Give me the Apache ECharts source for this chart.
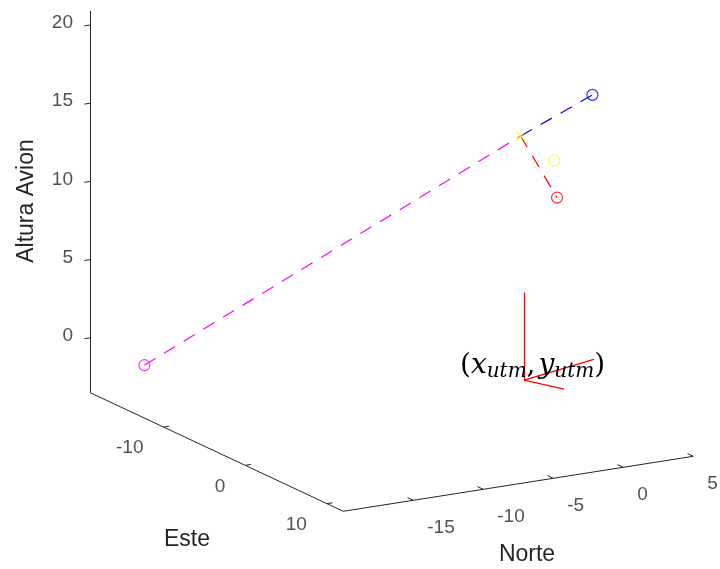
<!DOCTYPE html>
<html>
<head>
<meta charset="utf-8">
<script src="https://cdn.jsdelivr.net/npm/echarts@6/dist/echarts.min.js"></script>
<style>
  html, body { margin: 0; padding: 0; background: #fff; }
  #chart { width: 720px; height: 569px; }
</style>
</head>
<body>
<div id="chart"></div>
<script>
// limites de los ejes [min, max]
const norteRange = [-20, 5];
const esteRange = [-19, 12];
const alturaRange = [-3.5, 20.9];

// marcas de los ejes
const norteTicks = [-15, -10, -5, 0, 5];
const esteTicks = [-10, 0, 10];
const alturaTicks = [0, 5, 10, 15, 20];

// puntos [norte, este, altura]
const puntoInicio = [-19.5, -13.2, -0.4];   // magenta
const puntoCruce = [0.9, -2.1, 14.1];       // cruz amarilla
const puntoAvion = [4.8, 0, 16.7];          // azul
const puntoRojo = [3.5, -2.1, 9.8];
const puntoAmarillo = [3.3, -2.1, 12.2];

// sistema de referencia utm (rojo)
const origenUtm = [-1.6, 2.6, 0];
const ejesUtm = [[-1.6, 2.6, 5.6], [4.5, 0.7, 0], [-0.5, 5.6, 0]];

// vista: pixel del origen y vector por unidad de cada eje
const O = [525.2, 366.6];
const vN = [14.0, -2.2];
const vE = [8.17, 3.83];
const vZ = [0, -15.64];

function proj(p) {
    return [
        O[0] + p[0] * vN[0] + p[1] * vE[0] + p[2] * vZ[0],
        O[1] + p[0] * vN[1] + p[1] * vE[1] + p[2] * vZ[1]
    ];
}
function seg(a, b) {
    return { coords: [proj(a), proj(b)] };
}

const nMin = norteRange[0], nMax = norteRange[1];
const eMin = esteRange[0], eMax = esteRange[1];
const zMin = alturaRange[0], zMax = alturaRange[1];

// caja de ejes
const axisSegs = [
    seg([nMin, eMin, zMin], [nMin, eMin, zMax]),
    seg([nMin, eMin, zMin], [nMin, eMax, zMin]),
    seg([nMin, eMax, zMin], [nMax, eMax, zMin])
];
alturaTicks.forEach(z => axisSegs.push(seg([nMin, eMin, z], [nMin - 0.4, eMin, z])));
esteTicks.forEach(e => axisSegs.push(seg([nMin, e, zMin], [nMin + 0.4, e, zMin])));
norteTicks.forEach(n => axisSegs.push(seg([n, eMax, zMin], [n, eMax - 0.7, zMin])));

const utmSegs = ejesUtm.map(p => seg(origenUtm, p));

const labelFont = { fontFamily: 'Liberation Sans, Arial, sans-serif', fontSize: 19, color: '#262626' };

function tickLabels(vals, toPoint, pos, align) {
    return {
        type: 'scatter',
        symbolSize: 0,
        silent: true,
        z: 5,
        data: vals.map(v => ({ name: String(v), value: proj(toPoint(v)) })),
        label: Object.assign({
            show: true, formatter: '{b}', position: pos, align: align, verticalAlign: 'middle'
        }, labelFont)
    };
}

function marker(p, color) {
    return {
        type: 'scatter',
        symbol: 'circle',
        symbolSize: 11,
        z: 10,
        itemStyle: { color: 'rgba(0,0,0,0)', borderColor: color, borderWidth: 1.2 },
        data: [proj(p)]
    };
}

function dashed(a, b, color) {
    return {
        type: 'line',
        symbol: 'none',
        z: 4,
        lineStyle: { color: color, width: 1.2, type: [13, 10] },
        data: [proj(a), proj(b)]
    };
}

const chart = echarts.init(document.getElementById('chart'));
chart.setOption({
    animation: false,
    backgroundColor: '#fff',
    grid: { left: 0, right: 0, top: 0, bottom: 0 },
    xAxis: { type: 'value', min: 0, max: 720, show: false },
    yAxis: { type: 'value', min: 0, max: 569, inverse: true, show: false },
    graphic: [
        {
            type: 'text', x: 27, y: 201, rotation: Math.PI / 2,
            style: { text: 'Altura Avion', fontFamily: 'Liberation Sans, Arial, sans-serif', fontSize: 23, fill: '#262626', align: 'center', verticalAlign: 'middle' }
        },
        {
            type: 'text', x: 187, y: 540,
            style: { text: 'Este', fontFamily: 'Liberation Sans, Arial, sans-serif', fontSize: 23, fill: '#262626', align: 'center', verticalAlign: 'middle' }
        },
        {
            type: 'text', x: 527, y: 555,
            style: { text: 'Norte', fontFamily: 'Liberation Sans, Arial, sans-serif', fontSize: 23, fill: '#262626', align: 'center', verticalAlign: 'middle' }
        },
        {
            type: 'text', x: 460, y: 350, z: 20,
            style: {
                text: '{p|(}{v|x}{s|utm}{c|,}{v|y}{s|utm}{p|)}',
                fill: '#000',
                rich: {
                    p: { fontFamily: 'DejaVu Serif', fontSize: 28, lineHeight: 32, verticalAlign: 'middle' },
                    c: { fontFamily: 'DejaVu Serif', fontSize: 28, lineHeight: 32, verticalAlign: 'middle', padding: [0, 3, 0, 0] },
                    v: { fontFamily: 'DejaVu Serif', fontStyle: 'italic', fontSize: 28, lineHeight: 32, verticalAlign: 'middle' },
                    s: { fontFamily: 'DejaVu Serif', fontStyle: 'italic', fontSize: 20, lineHeight: 20, verticalAlign: 'bottom' }
                }
            }
        }
    ],
    series: [
        {
            type: 'lines',
            coordinateSystem: 'cartesian2d',
            silent: true,
            z: 2,
            lineStyle: { color: '#262626', width: 1, opacity: 1 },
            data: axisSegs
        },
        {
            type: 'lines',
            coordinateSystem: 'cartesian2d',
            silent: true,
            z: 3,
            lineStyle: { color: '#ff0000', width: 1.2, opacity: 1 },
            data: utmSegs
        },
        tickLabels(alturaTicks, z => [nMin, eMin, z], [-17, -2], 'right'),
        tickLabels(esteTicks, e => [nMin, e, zMin], [-20, 21], 'right'),
        tickLabels(norteTicks, n => [n, eMax, zMin], [14, 27], 'left'),
        dashed(puntoInicio, puntoCruce, '#ff00ff'),
        dashed(puntoCruce, puntoAvion, '#0000ff'),
        dashed(puntoCruce, puntoRojo, '#ff0000'),
        marker(puntoInicio, '#ff00ff'),
        marker(puntoAvion, '#0000ff'),
        marker(puntoRojo, '#ff0000'),
        marker(puntoAmarillo, '#ffff00'),
        {
            type: 'scatter',
            symbol: 'path://M0,0L10,10M10,0L0,10',
            symbolSize: 9,
            z: 10,
            itemStyle: { color: 'rgba(0,0,0,0)', borderColor: '#ffff00', borderWidth: 1.2 },
            data: [proj(puntoCruce)]
        }
    ]
});
</script>
</body>
</html>
